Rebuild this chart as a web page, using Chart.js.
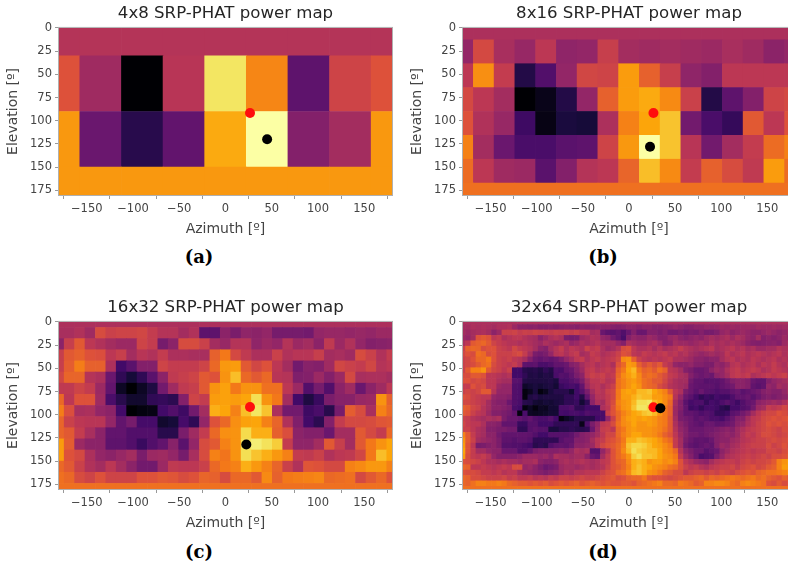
<!DOCTYPE html>
<html>
<head>
<meta charset="utf-8">
<script src="https://cdn.jsdelivr.net/npm/chart.js@4"></script>
<style>
html,body{margin:0;padding:0;background:#fff;width:788px;height:563px;overflow:hidden;}
canvas{position:absolute;}
.caption{position:absolute;width:60px;text-align:center;font:bold 18px "DejaVu Serif",serif;color:#000;}
</style>
</head>
<body>
<canvas id="mapA" style="left:0;top:0"></canvas>
<canvas id="mapB" style="left:404px;top:0"></canvas>
<canvas id="mapC" style="left:0;top:294px"></canvas>
<canvas id="mapD" style="left:404px;top:294px"></canvas>
<div class="caption" style="left:169px;top:246px">(a)</div>
<div class="caption" style="left:573px;top:246px">(b)</div>
<div class="caption" style="left:169px;top:541px">(c)</div>
<div class="caption" style="left:573px;top:541px">(d)</div>
<script>
/* power values, 0-100, rows top to bottom */
let power4x8=[
[48,48,48,48,48,48,48,48,48],
[60,43,0,49,94,73,27,55,60],
[77,30,14,28,81,100,36,44,77],
[77,77,77,77,77,77,77,77,77]
];
let power8x16=[
[46,46,46,46,46,46,46,46,46,46,46,46,46,46,46,46,46],
[40,57,45,41,50,39,40,53,44,43,44,43,42,45,43,38,40],
[50,75,52,13,24,40,56,55,78,64,53,39,36,50,50,50,50],
[57,50,44,0,4,13,40,64,78,81,74,54,13,27,36,55,57],
[60,47,41,19,3,11,10,46,72,80,86,32,22,17,62,50,60],
[72,44,30,22,22,26,27,55,77,100,86,49,32,44,52,67,72],
[67,50,43,42,26,36,48,50,65,85,74,52,64,58,51,78,67],
[68,68,68,68,68,68,68,68,68,68,68,68,68,68,68,68,68]
];
let power16x32=[
[46,46,46,46,46,46,46,46,46,46,46,46,46,46,46,46,46,46,46,46,46,46,46,46,46,46,46,46,46,46,46,46,46],
[45,45,47,43,58,54,55,55,56,52,48,48,44,47,27,27,38,34,39,38,40,33,33,33,32,40,41,41,40,41,40,42,42],
[38,53,62,50,47,44,42,42,55,52,33,38,58,58,54,44,41,48,48,39,42,40,48,42,44,38,51,42,47,40,36,37,38],
[53,62,64,60,59,50,53,44,49,47,52,46,46,45,45,64,70,57,51,46,46,54,47,49,49,53,44,45,43,58,54,47,52],
[53,63,71,64,64,46,20,26,36,36,55,52,52,52,55,66,77,78,62,56,60,50,44,32,37,36,43,56,54,52,56,48,50],
[56,65,65,48,46,30,16,10,16,26,38,51,53,55,62,60,76,85,66,62,66,49,48,35,36,42,36,42,57,45,46,46,44],
[51,51,55,52,42,28,6,0,6,12,32,43,51,53,62,76,79,70,76,76,68,68,50,42,24,33,24,38,43,30,38,43,50],
[66,50,60,60,43,22,14,8,8,16,17,15,36,55,52,78,79,78,80,92,76,70,44,20,12,18,34,37,37,41,42,76,64],
[71,59,45,46,40,38,20,0,2,3,20,24,19,32,44,82,80,72,85,94,86,46,32,32,19,22,14,33,63,58,45,72,66],
[65,54,50,49,49,40,28,33,21,21,8,10,21,16,40,60,66,75,79,80,72,65,47,35,20,15,36,52,57,57,58,61,62],
[65,62,52,45,38,28,28,24,24,24,14,14,34,43,52,66,75,76,91,82,82,64,59,38,36,36,30,44,44,62,57,52,66],
[78,63,42,38,38,27,27,24,18,24,28,37,26,40,58,62,72,76,93,96,93,88,52,39,39,44,62,53,44,62,70,76,80],
[78,60,57,46,40,38,41,44,34,42,43,40,33,45,58,72,69,76,92,86,82,77,72,52,51,54,47,50,51,56,70,85,80],
[66,62,54,47,44,50,44,38,32,32,42,51,50,50,54,66,70,72,82,77,72,65,54,47,61,60,57,57,72,74,77,77,72],
[68,66,58,55,60,55,55,55,60,60,62,61,58,60,65,64,58,66,66,62,74,64,70,71,72,73,66,67,68,57,62,66,60],
[68,68,68,68,68,68,68,68,68,68,68,68,68,68,68,68,68,68,68,68,68,68,68,68,68,68,68,68,68,68,68,68,68]
];
let power32x64=[
[46,46,46,46,46,46,46,46,46,46,46,46,46,46,46,46,46,46,46,46,46,46,46,46,46,46,46,46,46,46,46,46,46,46,46,46,46,46,46,46,46,46,46,46,46,46,46,46,46,46,46,46,46,46,46,46,46,46,46,46,46,46,46,46,46],
[44,44,46,45,46,45,44,46,46,47,42,38,38,37,38,36,36,37,36,37,38,37,36,38,37,37,38,38,38,36,35,36,38,38,36,38,38,36,36,37,38,40,38,36,36,38,38,40,39,40,42,41,42,41,42,42,41,43,42,42,43,42,43,43,44],
[44,42,44,45,46,44,38,42,54,54,55,52,54,53,55,54,53,52,54,53,54,52,54,50,50,44,45,30,27,26,28,24,30,36,30,30,36,36,34,36,32,32,34,32,34,33,36,33,33,35,40,42,38,40,42,40,38,38,40,42,40,38,40,42,44],
[42,40,44,60,62,60,50,52,46,48,50,50,47,45,44,38,42,46,48,46,34,33,34,42,44,47,46,40,38,32,28,22,36,40,38,38,42,40,36,36,40,42,38,36,38,40,38,42,44,42,44,46,42,46,44,40,38,44,36,38,36,38,42,40,42],
[46,50,62,64,66,62,55,52,50,48,48,46,48,46,44,42,46,44,42,44,46,40,42,46,44,46,48,44,44,44,40,36,46,44,42,42,44,46,42,36,38,44,42,42,40,42,44,42,46,44,46,44,46,44,42,38,36,35,36,37,38,36,42,44,46],
[54,64,66,65,58,60,60,54,52,50,56,52,50,48,44,38,36,44,48,52,46,50,48,46,54,50,52,46,42,44,48,58,60,50,46,46,48,44,48,44,46,48,52,48,46,44,46,48,50,44,46,48,50,46,48,44,46,42,42,44,44,48,46,46,48],
[56,60,58,68,66,58,60,54,54,54,56,58,52,44,34,32,34,40,48,50,46,50,52,44,46,52,50,46,48,50,54,60,58,50,48,52,50,48,50,52,48,50,46,48,44,42,40,42,44,42,44,50,46,48,50,46,48,50,48,46,48,50,46,48,54],
[54,56,60,66,66,70,60,54,52,54,50,48,44,36,30,28,30,28,30,34,40,44,50,52,46,50,52,48,50,52,56,74,76,64,54,50,48,50,48,50,52,46,46,44,42,38,38,36,38,38,44,48,50,46,48,46,50,48,46,48,50,46,48,46,54],
[54,56,58,62,66,68,58,54,52,50,52,47,27,26,27,22,22,24,28,28,30,36,38,44,48,50,46,48,50,46,60,66,78,76,64,58,62,58,62,52,48,40,38,38,40,36,36,34,34,40,38,42,48,50,46,48,50,46,50,48,52,48,46,50,54],
[54,62,72,72,76,62,56,54,50,54,20,20,14,13,14,12,16,13,23,22,28,30,36,42,50,52,48,50,52,50,64,70,80,84,70,64,66,62,68,64,50,48,44,36,34,30,30,32,38,42,40,46,50,52,48,50,52,50,46,48,52,50,48,46,60],
[58,58,62,62,60,50,50,48,46,48,20,20,16,12,13,11,13,12,22,25,24,28,34,38,50,54,52,54,50,52,66,74,78,82,74,66,68,66,62,58,52,50,46,44,36,32,30,32,30,38,40,44,50,52,50,52,46,48,50,52,50,52,54,50,62],
[60,60,56,58,56,50,50,46,44,44,26,25,13,12,12,12,12,13,11,22,22,25,28,34,44,50,50,52,48,50,68,72,76,78,74,68,66,62,62,56,50,46,44,44,32,28,28,25,26,26,28,32,36,38,38,36,30,28,28,36,40,42,44,46,58],
[52,52,60,56,58,50,50,42,40,40,24,23,7,9,11,9,11,12,9,18,20,22,20,28,42,48,50,46,50,54,68,72,76,80,76,68,66,64,58,54,48,46,44,42,30,28,27,27,27,25,28,30,32,38,38,36,28,26,28,40,38,44,42,44,56],
[54,56,54,56,62,62,48,40,40,40,24,23,2,5,11,2,5,11,14,14,14,9,20,25,34,44,50,48,54,56,70,78,80,78,84,84,86,80,76,72,62,50,46,34,30,26,30,26,25,23,25,25,28,30,26,28,30,32,36,38,36,36,40,44,60],
[60,58,54,52,50,50,40,38,38,36,24,23,2,12,14,11,12,12,12,12,16,16,20,13,28,40,48,48,52,56,70,78,78,82,86,84,84,78,78,74,70,48,40,30,26,21,16,19,17,21,19,19,23,28,28,30,26,30,34,36,34,36,38,40,74],
[56,56,54,52,50,44,38,36,36,30,24,22,14,13,9,8,10,9,11,12,16,16,18,9,16,38,46,44,52,58,72,76,78,84,92,92,94,84,80,74,66,44,36,26,21,23,23,17,21,19,23,26,23,19,24,28,30,38,40,42,44,42,46,50,76],
[64,62,56,54,48,44,38,38,36,34,22,20,2,6,2,6,5,9,9,22,22,24,16,16,20,20,20,46,50,60,70,76,78,86,94,94,90,84,78,70,64,42,36,28,19,21,17,21,21,19,15,13,21,21,24,26,32,42,44,52,50,52,56,54,76],
[62,60,54,50,48,42,36,36,34,32,28,2,22,6,5,6,7,9,9,21,20,22,22,20,24,22,22,22,54,60,66,72,76,80,82,86,88,84,76,70,64,42,34,28,28,26,23,25,23,17,17,19,26,28,32,36,44,50,54,56,56,60,58,56,72],
[54,52,48,46,44,46,44,46,34,30,30,28,25,28,24,22,22,25,20,2,6,9,14,14,14,14,20,22,40,54,66,74,78,80,78,80,78,76,72,70,62,44,34,32,30,26,28,26,23,23,21,26,30,36,36,44,50,52,56,58,60,58,60,62,68],
[56,52,50,50,46,38,38,36,28,28,28,18,18,25,25,20,20,20,16,16,16,16,16,4,23,34,40,50,52,58,68,74,76,80,76,76,78,76,72,70,62,46,38,34,30,28,26,30,30,27,28,30,32,38,40,46,50,54,56,60,58,60,58,60,62],
[54,54,50,46,44,36,36,34,34,32,32,16,16,25,27,25,25,11,11,14,14,16,14,14,16,30,42,52,54,50,66,70,76,78,76,76,76,74,72,68,62,48,40,36,30,30,30,32,32,34,36,38,36,42,46,50,52,54,56,58,56,54,58,58,62],
[72,62,52,46,44,38,38,32,28,28,28,28,28,27,24,20,20,25,25,25,25,27,32,36,38,40,44,50,56,56,66,72,76,80,80,76,76,74,70,64,60,50,42,36,32,32,30,32,34,36,38,40,38,42,48,52,50,54,58,58,56,54,56,58,66],
[76,62,54,44,42,40,38,34,27,27,25,27,27,25,16,16,16,16,16,25,28,28,36,36,38,44,50,52,58,60,64,70,82,82,86,84,82,80,76,70,66,52,44,34,30,27,28,27,30,36,38,38,42,44,48,50,52,54,54,56,58,56,58,60,70],
[78,60,50,33,34,36,38,34,25,25,24,24,22,20,14,16,14,24,27,28,27,30,38,38,40,42,50,56,60,62,66,72,86,90,90,88,84,80,78,74,70,52,44,32,28,26,28,30,28,36,42,40,44,46,50,52,54,54,54,58,54,56,60,58,76],
[80,60,52,44,44,40,38,38,30,30,30,24,24,28,34,36,36,36,36,38,36,40,46,44,46,25,25,40,48,60,66,74,84,92,88,86,84,84,80,74,72,66,48,38,34,30,30,25,28,30,38,42,46,48,50,52,50,52,52,56,56,54,58,60,78],
[78,58,52,50,52,48,40,36,36,36,36,38,42,42,42,40,42,38,46,44,44,42,44,44,38,30,28,44,52,60,66,70,76,88,92,86,86,84,80,76,74,70,52,42,36,30,22,24,25,34,40,46,48,50,52,54,52,54,56,54,58,58,60,62,74],
[60,58,56,54,50,46,46,44,46,44,44,42,44,44,46,38,36,36,38,44,46,44,46,48,46,44,46,50,52,60,64,66,74,82,84,82,76,78,78,74,76,72,60,50,46,42,40,38,44,48,50,52,52,50,54,56,54,56,56,58,62,72,76,78,72],
[66,64,50,50,52,50,48,50,52,50,58,58,40,42,38,34,30,32,34,42,44,44,42,44,46,44,46,48,54,60,62,66,72,82,86,82,80,76,74,72,68,66,60,54,50,52,48,46,50,52,54,54,56,52,56,58,60,56,58,62,64,72,78,78,70],
[60,58,58,56,52,52,50,52,48,50,50,44,42,40,38,36,34,36,38,42,46,44,48,48,50,50,50,54,58,60,66,68,74,84,86,82,76,74,70,64,62,58,58,50,54,56,56,54,56,54,58,56,54,58,60,62,60,64,66,68,68,70,72,74,66],
[66,64,58,58,56,54,54,54,56,52,54,50,50,52,48,50,48,52,50,54,54,52,54,56,54,54,56,58,60,62,58,60,64,66,66,70,62,60,60,58,56,58,60,62,62,64,66,62,66,64,66,68,70,68,66,68,70,66,68,64,62,60,64,62,62],
[66,64,68,72,72,70,70,72,70,66,64,62,62,60,62,60,62,58,60,62,60,62,64,60,62,64,62,60,62,60,60,62,62,60,64,66,68,70,72,66,66,64,70,68,66,62,64,72,72,74,74,72,68,66,72,74,72,70,68,60,58,62,58,60,66],
[68,68,68,68,68,68,68,68,68,68,68,68,68,68,68,68,68,68,68,68,68,68,68,68,68,68,68,68,68,68,68,68,68,68,68,68,68,68,68,68,68,68,68,68,68,68,68,68,68,68,68,68,68,68,68,68,68,68,68,68,68,68,68,68,68]
];

let azimuthTicks=[-150,-100,-50,0,50,100,150];
let elevationTicks=[0,25,50,75,100,125,150,175];
let mapTitles=["4x8 SRP-PHAT power map","8x16 SRP-PHAT power map","16x32 SRP-PHAT power map","32x64 SRP-PHAT power map"];
let redPoints=[[26.5,91.7],[26.5,91.7],[26.5,91.7],[26.5,92]];
let blackPoints=[[45,120],[22.8,128],[22.5,132],[34,93]];

let infernoAt=[0,10,20,30,40,50,60,70,80,90,95,100];
let infernoStops=["#000004","#160b39","#420a68","#6a176e","#932667","#bc3754","#dd513a","#f37819","#fca50a","#f6d746","#f2ea69","#fcffa4"];

function inferno(v){
  let i=0;
  while(i<infernoAt.length-2 && v>infernoAt[i+1]) i++;
  let f=(v-infernoAt[i])/(infernoAt[i+1]-infernoAt[i]);
  let a=parseInt(infernoStops[i].slice(1),16), b=parseInt(infernoStops[i+1].slice(1),16);
  let mix=s=>Math.round(((a>>s)&255)*(1-f)+((b>>s)&255)*f);
  return "rgb("+mix(16)+","+mix(8)+","+mix(0)+")";
}

/* outline round the plot, the library only draws the left and bottom spine */
let frame={
  id:"frame",
  afterDraw(chart){
    let a=chart.chartArea, c=chart.ctx;
    c.save();
    c.strokeStyle="#b0b0b0";
    c.lineWidth=1;
    c.strokeRect(a.left-0.5,a.top-0.5,a.right-a.left+1,a.bottom-a.top+1);
    c.restore();
  }
};

function buildMap(id,values,title,red,black){
  let rows=values.length, cols=values[0].length;
  let azStep=360/(cols-1), elStep=180/(rows-1);
  let cells=[], colors=[];
  values.forEach((row,r)=>{
    row.forEach((v,c)=>{
      let el=r*elStep;
      cells.push({x:-180+c*azStep,y:[el-elStep/2,el+elStep/2]});
      colors.push(inferno(v));
    });
  });
  let canvas=document.getElementById(id);
  canvas.width=400;
  canvas.height=245;
  canvas.style.width="400px";
  canvas.style.height="245px";
  let rightPad=(id==="mapB"||id==="mapD")?9:8;
  new Chart(canvas,{
    type:"bar",
    data:{
      datasets:[
        {type:"scatter",order:0,data:[{x:black[0],y:black[1]}],pointRadius:5,backgroundColor:"#000",borderWidth:0},
        {type:"scatter",order:1,data:[{x:red[0],y:red[1]}],pointRadius:5,backgroundColor:"#ff0d0d",borderWidth:0},
        {order:2,data:cells,backgroundColor:colors,borderWidth:0,categoryPercentage:1,barPercentage:1}
      ]
    },
    options:{
      responsive:false,
      animation:false,
      events:[],
      layout:{padding:{left:0,right:rightPad,top:0,bottom:0}},
      plugins:{
        legend:{display:false},
        tooltip:{enabled:false},
        title:{display:true,fullSize:false,text:title,color:"#262626",font:{family:"DejaVu Sans",size:16.6,weight:"normal"},padding:{top:4,bottom:4}}
      },
      scales:{
        x:{
          type:"linear",
          offset:false,
          min:-180,max:180,
          afterBuildTicks:s=>{s.ticks=azimuthTicks.map(v=>({value:v}));},
          afterFit:s=>{s.height=50;},
          ticks:{autoSkip:false,maxRotation:0,color:"#444",font:{family:"DejaVu Sans",size:11.5},padding:3,callback:v=>String(v).replace("-","\u2212")},
          grid:{drawOnChartArea:false,tickLength:4,tickColor:"#999"},
          border:{color:"#b0b0b0"},
          title:{display:true,text:"Azimuth [º]",color:"#444",font:{family:"DejaVu Sans",size:14},padding:{top:0,bottom:7}}
        },
        y:{
          reverse:true,
          min:0,max:180,
          afterBuildTicks:s=>{s.ticks=elevationTicks.map(v=>({value:v}));},
          afterFit:s=>{s.width=59;},
          ticks:{autoSkip:false,color:"#444",font:{family:"DejaVu Sans",size:11.5},padding:3},
          grid:{drawOnChartArea:false,tickLength:4,tickColor:"#999"},
          border:{color:"#b0b0b0"},
          title:{display:true,text:"Elevation [º]",color:"#444",font:{family:"DejaVu Sans",size:14},padding:{top:5,bottom:0}}
        }
      }
    },
    plugins:[frame]
  });
}

buildMap("mapA",power4x8,mapTitles[0],redPoints[0],blackPoints[0]);
buildMap("mapB",power8x16,mapTitles[1],redPoints[1],blackPoints[1]);
buildMap("mapC",power16x32,mapTitles[2],redPoints[2],blackPoints[2]);
buildMap("mapD",power32x64,mapTitles[3],redPoints[3],blackPoints[3]);
</script>
</body>
</html>
